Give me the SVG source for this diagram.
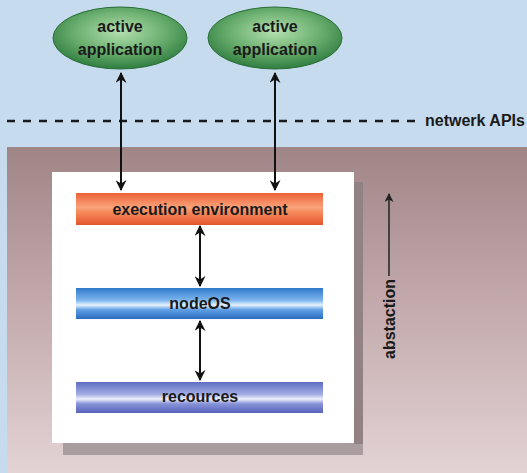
<svg xmlns="http://www.w3.org/2000/svg" width="527" height="473" viewBox="0 0 527 473">
  <defs>
    <style>
      .lbl { font-family: "Liberation Sans", Arial, sans-serif; font-weight: bold; font-size: 16px; fill: #1a1a1a; text-anchor: middle; }
      .conn { stroke: #111; stroke-width: 2; fill: none; }
    </style>
    <linearGradient id="panelGrad" x1="0" y1="0" x2="0" y2="1">
      <stop offset="0" stop-color="#a08587"/>
      <stop offset="0.5" stop-color="#c4abad"/>
      <stop offset="1" stop-color="#e3d3d5"/>
    </linearGradient>
    <radialGradient id="appGrad" cx="0.5" cy="0.4" r="0.6">
      <stop offset="0" stop-color="#b4e0b0"/>
      <stop offset="0.55" stop-color="#6cb070"/>
      <stop offset="1" stop-color="#2f7d40"/>
    </radialGradient>
    <linearGradient id="execGrad" x1="0" y1="0" x2="0" y2="1">
      <stop offset="0" stop-color="#ee6236"/>
      <stop offset="0.45" stop-color="#f9a27a"/>
      <stop offset="0.6" stop-color="#f58a5c"/>
      <stop offset="1" stop-color="#e5542c"/>
    </linearGradient>
    <linearGradient id="osGrad" x1="0" y1="0" x2="0" y2="1">
      <stop offset="0" stop-color="#2e78cc"/>
      <stop offset="0.4" stop-color="#7fb6ee"/>
      <stop offset="0.55" stop-color="#e6f2fc"/>
      <stop offset="0.7" stop-color="#5f9fe4"/>
      <stop offset="1" stop-color="#2a6cc2"/>
    </linearGradient>
    <linearGradient id="resGrad" x1="0" y1="0" x2="0" y2="1">
      <stop offset="0" stop-color="#5e6cc0"/>
      <stop offset="0.4" stop-color="#a3aee6"/>
      <stop offset="0.55" stop-color="#eef0fb"/>
      <stop offset="0.7" stop-color="#8894d8"/>
      <stop offset="1" stop-color="#5663bb"/>
    </linearGradient>
    <marker id="head" viewBox="0 0 10 10" refX="9" refY="5" markerWidth="5.5" markerHeight="5.5" orient="auto-start-reverse" markerUnits="strokeWidth">
      <path d="M0,0 L10,5 L0,10 L3,5 Z" fill="#111"/>
    </marker>
    <marker id="headThin" viewBox="0 0 10 10" refX="9" refY="5" markerWidth="6" markerHeight="6" orient="auto" markerUnits="strokeWidth">
      <path d="M0,0 L10,5 L0,10 L3,5 Z" fill="#222"/>
    </marker>
  </defs>

  <!-- sky background and network layer -->
  <rect x="0" y="0" width="527" height="473" fill="#c6dbee"/>
  <rect x="7" y="147" width="520" height="326" fill="url(#panelGrad)"/>

  <!-- API boundary -->
  <line x1="7" y1="121" x2="417" y2="121" stroke="#1a1a1a" stroke-width="2.5" stroke-dasharray="8,8"/>
  <text class="lbl" x="425" y="126" style="text-anchor:start">netwerk APIs</text>

  <!-- node box with drop shadow -->
  <rect x="63" y="182" width="300" height="273" fill="#a99d9f"/>
  <rect x="354" y="182" width="9" height="262" fill="#938284"/>
  <rect x="52" y="172" width="302" height="271" fill="#ffffff"/>

  <g id="app1">
    <ellipse cx="120" cy="38" rx="67" ry="31" fill="url(#appGrad)" stroke="#2a6e38" stroke-width="1"/>
    <text class="lbl" x="120" y="32">active</text>
    <text class="lbl" x="120" y="55">application</text>
  </g>
  <g id="app2">
    <ellipse cx="275" cy="38" rx="67" ry="31" fill="url(#appGrad)" stroke="#2a6e38" stroke-width="1"/>
    <text class="lbl" x="275" y="32">active</text>
    <text class="lbl" x="275" y="55">application</text>
  </g>

  <g id="exec-env">
    <rect x="76" y="193" width="247" height="32" fill="url(#execGrad)"/>
    <text class="lbl" x="200" y="215">execution environment</text>
  </g>
  <g id="nodeos">
    <rect x="76" y="288" width="247" height="31" fill="url(#osGrad)"/>
    <text class="lbl" x="200" y="309">nodeOS</text>
  </g>
  <g id="resources">
    <rect x="76" y="382" width="247" height="31" fill="url(#resGrad)"/>
    <text class="lbl" x="200" y="402">recources</text>
  </g>

  <g id="abstraction">
    <line x1="389" y1="276" x2="389" y2="194" stroke="#222" stroke-width="1.5" marker-end="url(#headThin)"/>
    <text class="lbl" transform="translate(395,279) rotate(-90)" style="text-anchor:end">abstaction</text>
  </g>

  <g id="connectors">
    <line class="conn" x1="121" y1="73" x2="121" y2="190" marker-start="url(#head)" marker-end="url(#head)"/>
    <line class="conn" x1="275" y1="73" x2="275" y2="190" marker-start="url(#head)" marker-end="url(#head)"/>
    <line class="conn" x1="200" y1="226" x2="200" y2="286" marker-start="url(#head)" marker-end="url(#head)"/>
    <line class="conn" x1="200" y1="321" x2="200" y2="380" marker-start="url(#head)" marker-end="url(#head)"/>
  </g>
</svg>
